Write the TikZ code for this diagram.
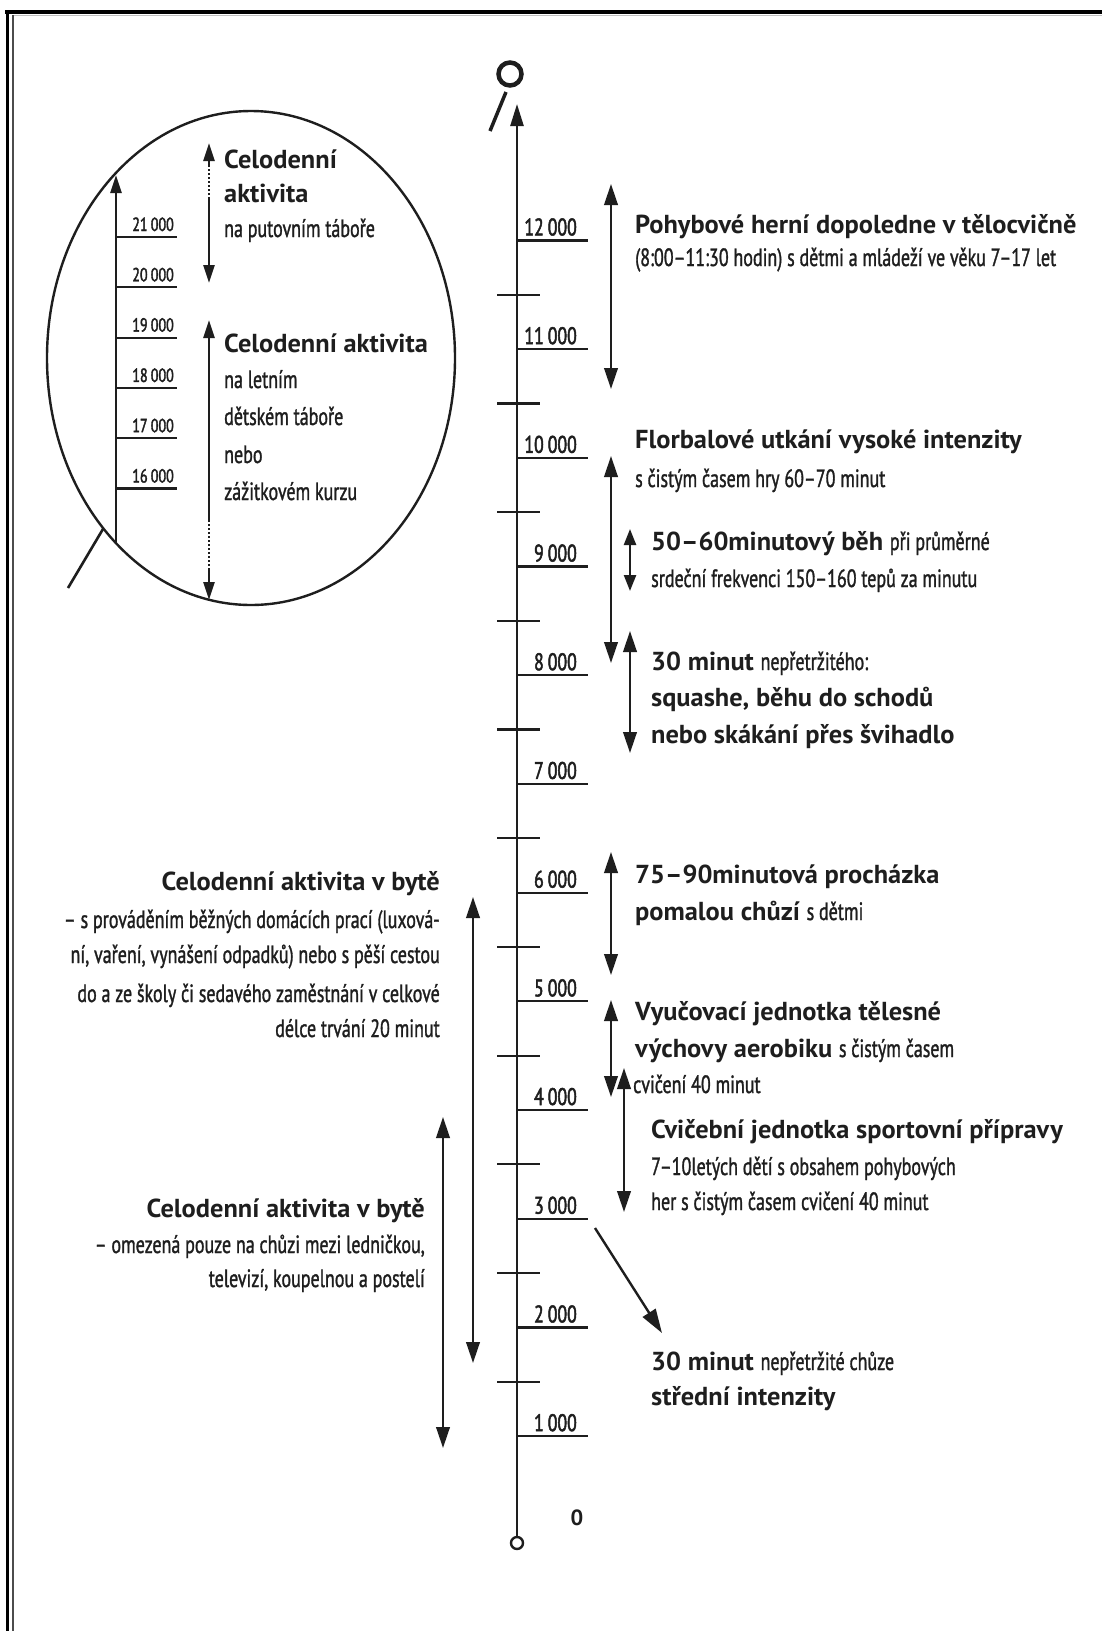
\documentclass[tikz,border=0pt]{standalone}
\usepackage{fontspec}
\setmainfont{PT Sans}
\newfontfamily\hdfam{PT Sans}[FakeStretch=1.015]
\newfontfamily\rgfam{PT Sans}[FakeStretch=0.72,FakeBold=1.2]
\newfontfamily\tkfam{PT Sans}[FakeStretch=0.74,FakeBold=2]
\usetikzlibrary{arrows.meta}
\definecolor{ink}{HTML}{1E1E1E}
\newcommand\Tb[1]{{\hdfam\bfseries\fontsize{26}{30}\selectfont #1}}
\newcommand\Tr[1]{{\rgfam\fontsize{25}{28}\selectfont #1}}
\newcommand\Tk[1]{{\tkfam\fontsize{24}{26}\selectfont #1}}
\newcommand\Ts[1]{{\tkfam\fontsize{19}{22}\selectfont #1}}
\tikzset{
  tl/.style={anchor=base west, inner sep=0pt, text=ink},
  tr/.style={anchor=base east, inner sep=0pt, text=ink},
  ln/.style={line width=2.4pt, draw=ink},
  tkl/.style={line width=2.2pt, draw=ink},
  bigtip/.tip={Triangle[length=21pt,width=13.5pt]},
  smtip/.tip={Triangle[length=16pt,width=12pt]},
  dar/.style={ln, bigtip-bigtip},
  sar/.style={ln, smtip-smtip},
}
\begin{document}
\begin{tikzpicture}[x=1pt,y=-1pt]
\useasboundingbox (0,0) rectangle (1102,1631);
\fill[white] (0,0) rectangle (1102,1631);
% frame
\draw[line width=3.5pt, black] (5,12) -- (1102,12);
\draw[line width=1.2pt, black!25] (12,15.5) -- (1102,15.5);
\draw[line width=3pt, black] (7,12) -- (7,1631);
\draw[line width=2pt, black!70] (12.5,15) -- (12.5,1631);

% main axis
\draw[ln, -{Triangle[length=22pt,width=13pt]}] (517,1537) -- (517,104);
\draw[ln, fill=white] (517,1543) circle (6);
\draw[line width=4.5pt, draw=ink] (510,74) circle (11.5);
\draw[line width=3.5pt, draw=ink] (506,92) -- (490,131);

% major ticks and labels
\foreach \k in {1,...,12}{
  \pgfmathsetmacro{\yy}{240.4+(12-\k)*108.7}
  \draw[tkl] (517,\yy) -- (588,\yy);
  \node[tr] (tk\k) at (577,\yy-5) {\Tk{\k\,000}};
}
\foreach \k in {1,...,11}{
  \pgfmathsetmacro{\yy}{240.4+(11.5-\k)*108.7}
  \draw[tkl] (497,\yy) -- (540,\yy);
}
\node[anchor=base, inner sep=0pt, text=ink] (zero) at (577,1525) {{\hdfam\bfseries\fontsize{22}{24}\selectfont 0}};

% right side arrows
\draw[dar] (611,184) -- (611,389);
\draw[dar] (611,456) -- (611,663);
\draw[sar] (630,529) -- (630,591);
\draw[dar] (630,631) -- (630,753);
\draw[dar] (611,852) -- (611,975);
\draw[dar] (611,1000) -- (611,1097);
\draw[dar] (624,1068) -- (624,1212);
\draw[ln, -{Triangle[length=24pt,width=15pt]}] (595,1228) -- (662,1333);

% right side texts
\node[tl] (a1) at (635,233) {\Tb{Pohybové herní dopoledne v tělocvičně}};
\node[tl] (a2) at (635,266) {\Tr{(8:00–11:30 hodin) s dětmi a mládeží ve věku 7–17 let}};
\node[tl] (b1) at (635,448) {\Tb{Florbalové utkání vysoké intenzity}};
\node[tl] (b2) at (635,487) {\Tr{s čistým časem hry 60–70 minut}};
\node[tl] (c1) at (651,550) {\Tb{50–60minutový běh }\Tr{při průměrné}};
\node[tl] (c2) at (651,587) {\Tr{srdeční frekvenci 150–160 tepů za minutu}};
\node[tl] (d1) at (651,670) {\Tb{30 minut }\Tr{nepřetržitého:}};
\node[tl] (d2) at (651,706) {\Tb{squashe, běhu do schodů}};
\node[tl] (d3) at (651,743) {\Tb{nebo skákání přes švihadlo}};
\node[tl] (e1) at (635,883) {\Tb{75–90minutová procházka}};
\node[tl] (e2) at (635,920) {\Tb{pomalou chůzí }\Tr{s dětmi}};
\node[tl] (f1) at (635,1020) {\Tb{Vyučovací jednotka tělesné}};
\node[tl] (f2) at (635,1057) {\Tb{výchovy aerobiku }\Tr{s čistým časem}};
\node[tl] (f3) at (633,1093) {\Tr{cvičení 40 minut}};
\node[tl] (g1) at (651,1138) {\Tb{Cvičební jednotka sportovní přípravy}};
\node[tl] (g2) at (651,1175) {\Tr{7–10letých dětí s obsahem pohybových}};
\node[tl] (g3) at (651,1210) {\Tr{her s čistým časem cvičení 40 minut}};
\node[tl] (h1) at (651,1370) {\Tb{30 minut }\Tr{nepřetržité chůze}};
\node[tl] (h2) at (651,1405) {\Tb{střední intenzity}};

% left side
\draw[dar] (473,897) -- (473,1363);
\draw[dar] (443,1117) -- (443,1448);
\node[tr] (l1) at (440,890) {\Tb{Celodenní aktivita v bytě}};
\node[tr] (l2) at (440,928) {\Tr{– s prováděním běžných domácích prací (luxová-}};
\node[tr] (l3) at (440,963) {\Tr{ní, vaření, vynášení odpadků) nebo s pěší cestou}};
\node[tr] (l4) at (440,1002) {\Tr{do a ze školy či sedavého zaměstnání v celkové}};
\node[tr] (l5) at (440,1037) {\Tr{délce trvání 20 minut}};
\node[tr] (m1) at (425,1217) {\Tb{Celodenní aktivita v bytě}};
\node[tr] (m2) at (425,1253) {\Tr{– omezená pouze na chůzi mezi ledničkou,}};
\node[tr] (m3) at (425,1287) {\Tr{televizí, koupelnou a postelí}};

% magnifier
\draw[ln] (251,358) ellipse [x radius=204, y radius=247];
\draw[line width=2.6pt, draw=ink] (103,529) -- (68,588);
\draw[ln, -{Triangle[length=18pt,width=11pt]}] (116,543) -- (116,175);
\foreach \k in {16,...,21}{
  \pgfmathsetmacro{\yy}{237+(21-\k)*50.3}
  \draw[tkl] (116,\yy) -- (177,\yy);
  \node[tr] (itk\k) at (174,\yy-6) {\Ts{\k\,000}};
}
\draw[ln, -{Triangle[length=18pt,width=11pt]}] (209,165) -- (209,143);
\draw[line width=1.4pt, draw=ink, dash pattern=on 2pt off 2pt] (209,165) -- (209,197);
\draw[ln, -{Triangle[length=18pt,width=11pt]}] (209,197) -- (209,283);
\draw[ln, -{Triangle[length=18pt,width=11pt]}] (209,520) -- (209,320);
\draw[line width=1.4pt, draw=ink, dash pattern=on 2pt off 2pt] (209,520) -- (209,568);
\draw[ln, -{Triangle[length=18pt,width=11pt]}] (209,568) -- (209,600);
\node[tl] (i1) at (224,168) {\Tb{Celodenní}};
\node[tl] (i2) at (224,202) {\Tb{aktivita}};
\node[tl] (i3) at (224,237) {\Tr{na putovním táboře}};
\node[tl] (i4) at (224,352) {\Tb{Celodenní aktivita}};
\node[tl] (i5) at (224,388) {\Tr{na letním}};
\node[tl] (i6) at (224,425) {\Tr{dětském táboře}};
\node[tl] (i7) at (224,463) {\Tr{nebo}};
\node[tl] (i8) at (224,500) {\Tr{zážitkovém kurzu}};
\end{tikzpicture}
\end{document}
